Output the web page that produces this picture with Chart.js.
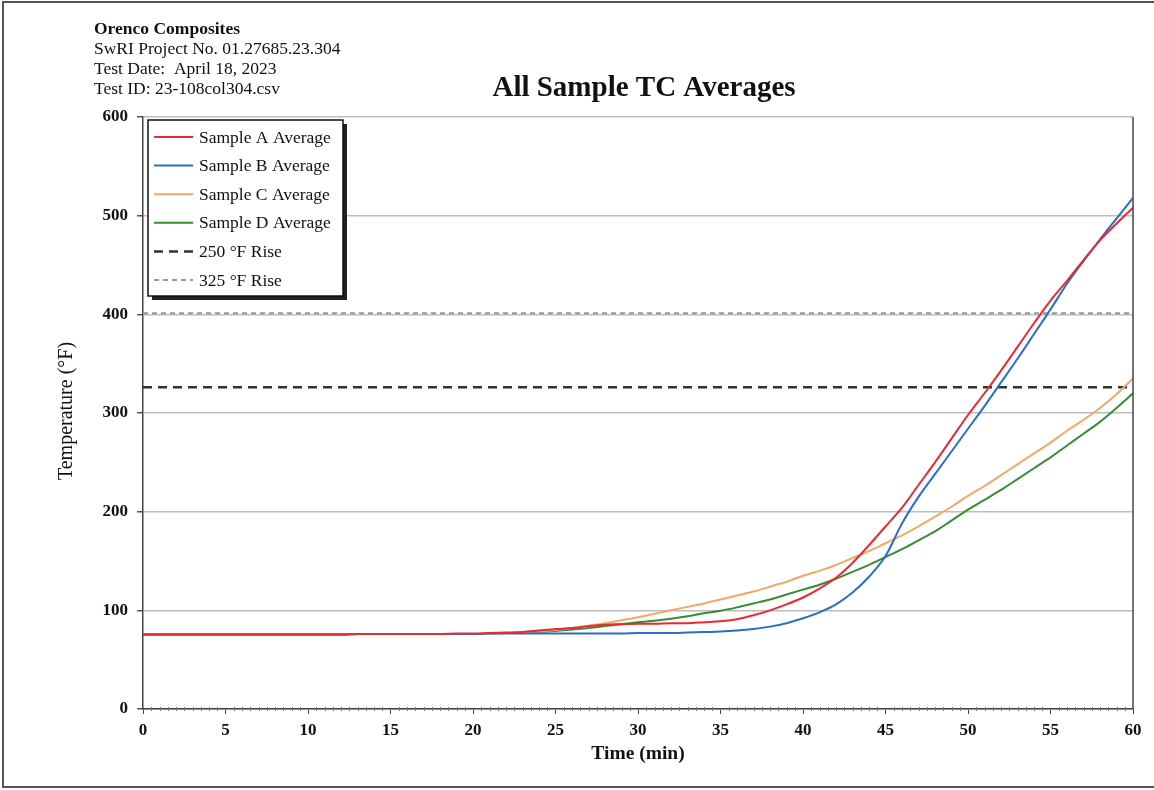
<!DOCTYPE html>
<html>
<head>
<meta charset="utf-8">
<title>All Sample TC Averages</title>
<script src="https://cdn.jsdelivr.net/npm/chart.js@4.4.1/dist/chart.umd.min.js"></script>
<style>
  html, body { margin: 0; padding: 0; background: #fff; }
  #wrap { width: 1154px; height: 790px; position: relative; }
</style>
</head>
<body>
<div id="wrap"><canvas id="myChart" width="1154" height="790"></canvas></div>
<script>
// Time in minutes, one reading per minute
const timeMin = Array.from({ length: 61 }, (_, i) => i);

// Averaged thermocouple temperatures (°F)
const sampleA = [75.5, 75.5, 75.5, 75.5, 75.5, 75.5, 75.5, 75.5, 75.5, 75.5, 75.5, 75.5, 75.5, 76, 76, 76, 76, 76, 76, 76.5, 76.5,
  77, 77.5, 78, 79.5, 81, 82, 84, 85.5, 86, 86.5, 86.5, 87, 87, 88, 89, 91, 95, 100, 106, 113,
  122, 133, 148, 166, 185, 204, 227, 250, 274, 298, 320, 343, 367, 391, 414, 434, 455, 475, 492, 508];
const sampleB = [75.5, 75.5, 75.5, 75.5, 75.5, 75.5, 75.5, 75.5, 75.5, 75.5, 75.5, 75.5, 75.5, 76, 76, 76, 76, 76, 76, 76, 76,
  76.5, 76.5, 76.5, 76.5, 76.5, 76.5, 76.5, 76.5, 76.5, 77, 77, 77, 77.5, 78, 78.5, 79.5, 81, 83.5, 87, 92,
  98, 106, 118, 134, 155, 188, 215, 238, 261, 284, 307, 331, 355, 380, 405, 431, 454, 476, 497, 518];
const sampleC = [75.5, 75.5, 75.5, 75.5, 75.5, 75.5, 75.5, 75.5, 75.5, 75.5, 75.5, 75.5, 75.5, 76, 76, 76, 76, 76, 76, 76, 76,
  76.5, 77, 77.5, 78.5, 80, 82, 84.5, 87, 90, 93, 96.5, 100, 103.5, 107, 111, 115, 119, 124, 129, 135,
  140, 146, 153, 160, 168, 176, 185, 195, 205, 216, 226, 237, 248, 259, 270, 282, 293, 305, 319, 335];
const sampleD = [75.5, 75.5, 75.5, 75.5, 75.5, 75.5, 75.5, 75.5, 75.5, 75.5, 75.5, 75.5, 75.5, 76, 76, 76, 76, 76, 76, 76, 76,
  76.5, 77, 77.5, 78, 79, 80.5, 82, 84, 86, 88, 89.5, 91.5, 94, 97, 99.5, 103, 107, 111, 116, 121,
  126, 132, 139, 146, 154, 162, 171, 180, 191, 202, 212, 222, 233, 244, 255, 267, 279, 291, 305, 320];

// Rise criteria lines (start temperature + rise)
const rise250 = [326, 326];
const rise325 = [401, 401];
const riseTimes = [0, 60];

const xTicks = [0, 5, 10, 15, 20, 25, 30, 35, 40, 45, 50, 55, 60];
const yTicks = [0, 100, 200, 300, 400, 500, 600];

const headerLines = ['Orenco Composites', 'SwRI Project No. 01.27685.23.304', 'Test Date:  April 18, 2023', 'Test ID: 23-108col304.csv'];

const SERIF = '"Liberation Serif", "Times New Roman", serif';

function pts(xs, ys) {
  return xs.map((x, i) => ({ x: x, y: ys[i] }));
}

function curve(label, data, color) {
  return {
    label: label,
    data: pts(timeMin, data),
    borderColor: color,
    backgroundColor: color,
    borderWidth: 2,
    pointRadius: 0,
    cubicInterpolationMode: 'monotone',
    fill: false
  };
}

// Frame, header, axis titles, legend and minor ticks
const decorations = {
  id: 'decorations',
  beforeDraw(chart) {
    const ctx = chart.ctx;
    ctx.save();
    ctx.fillStyle = '#fff';
    ctx.fillRect(0, 0, chart.width, chart.height);
    ctx.strokeStyle = '#555';
    ctx.lineWidth = 2;
    ctx.beginPath();
    ctx.moveTo(chart.width, 2);
    ctx.lineTo(3, 2);
    ctx.lineTo(3, 787);
    ctx.lineTo(chart.width, 787);
    ctx.stroke();
    ctx.restore();
  },
  afterDraw(chart) {
    const ctx = chart.ctx;
    const area = chart.chartArea;
    const xs = chart.scales.x;
    ctx.save();
    ctx.fillStyle = '#111';
    ctx.textBaseline = 'middle';
    ctx.textAlign = 'left';
    headerLines.forEach((line, i) => {
      ctx.font = (i === 0 ? 'bold ' : '') + '17.5px ' + SERIF;
      ctx.fillText(line, 94, 29 + i * 20);
    });

    ctx.textAlign = 'center';
    ctx.font = 'bold 29px ' + SERIF;
    ctx.fillText('All Sample TC Averages', 644, 89);

    ctx.font = 'bold 19.5px ' + SERIF;
    ctx.fillText('Time (min)', 638, 754);

    ctx.save();
    ctx.translate(67, 411);
    ctx.rotate(-Math.PI / 2);
    ctx.font = '20px ' + SERIF;
    ctx.fillText('Temperature (°F)', 0, 0);
    ctx.restore();

    // right border of the plot area
    ctx.strokeStyle = '#444';
    ctx.lineWidth = 1.5;
    ctx.beginPath();
    ctx.moveTo(area.right, area.top);
    ctx.lineTo(area.right, area.bottom);
    ctx.stroke();

    // minor ticks every half minute
    ctx.strokeStyle = '#777';
    ctx.lineWidth = 1;
    ctx.beginPath();
    for (let t = 0.5; t < 60; t += 0.5) {
      if (t % 5 === 0) continue;
      const px = Math.round(xs.getPixelForValue(t)) + 0.5;
      ctx.moveTo(px, area.bottom - 2);
      ctx.lineTo(px, area.bottom + 2);
    }
    ctx.stroke();

    // legend box with drop shadow
    const bx = 148, by = 120, bw = 195, bh = 176;
    ctx.fillStyle = '#222';
    ctx.fillRect(bx + 4, by + 4, bw, bh);
    ctx.fillStyle = '#fff';
    ctx.fillRect(bx, by, bw, bh);
    ctx.strokeStyle = '#111';
    ctx.lineWidth = 1.5;
    ctx.strokeRect(bx, by, bw, bh);

    ctx.textAlign = 'left';
    ctx.font = '17.5px ' + SERIF;
    chart.data.datasets.forEach((ds, i) => {
      const ly = by + 17 + i * 28.6;
      ctx.strokeStyle = ds.borderColor;
      ctx.lineWidth = ds.borderWidth;
      ctx.setLineDash(ds.borderDash || []);
      ctx.beginPath();
      ctx.moveTo(bx + 6, ly);
      ctx.lineTo(bx + 45, ly);
      ctx.stroke();
      ctx.setLineDash([]);
      ctx.fillStyle = '#111';
      ctx.fillText(ds.label, bx + 51, ly + 1);
    });
    ctx.restore();
  }
};

const ctx = document.getElementById('myChart').getContext('2d');
const myChart = new Chart(ctx, {
  type: 'line',
  data: {
    datasets: [
      curve('Sample A Average', sampleA, '#e82a32'),
      curve('Sample B Average', sampleB, '#2a6fc4'),
      curve('Sample C Average', sampleC, '#f2a866'),
      curve('Sample D Average', sampleD, '#3a8a36'),
      {
        label: '250 °F Rise',
        data: pts(riseTimes, rise250),
        borderColor: '#333',
        borderWidth: 2.5,
        borderDash: [9, 6],
        pointRadius: 0
      },
      {
        label: '325 °F Rise',
        data: pts(riseTimes, rise325),
        borderColor: '#999',
        borderWidth: 2,
        borderDash: [5, 4],
        pointRadius: 0
      }
    ]
  },
  options: {
    responsive: false,
    animation: false,
    layout: { padding: { top: 117, right: 21, left: 0, bottom: 0 } },
    plugins: {
      legend: { display: false },
      tooltip: { enabled: false }
    },
    scales: {
      x: {
        type: 'linear',
        min: 0,
        max: 60,
        afterFit: (scale) => { scale.height = 81; },
        afterBuildTicks: (scale) => { scale.ticks = xTicks.map(v => ({ value: v })); },
        border: { color: '#444', width: 1.5 },
        grid: { drawOnChartArea: false, tickLength: 5, tickColor: '#444', lineWidth: 1 },
        ticks: { color: '#111', padding: 6, font: { family: SERIF, size: 17, weight: 'bold' } }
      },
      y: {
        min: 0,
        max: 600,
        afterFit: (scale) => { scale.width = 143; },
        afterBuildTicks: (scale) => { scale.ticks = yTicks.map(v => ({ value: v })); },
        border: { color: '#444', width: 1.5 },
        grid: { color: '#bdbdbd', lineWidth: 1.5, tickLength: 6, tickColor: '#555' },
        ticks: { color: '#111', padding: 9, font: { family: SERIF, size: 17, weight: 'bold' } }
      }
    }
  },
  plugins: [decorations]
});
</script>
</body>
</html>
